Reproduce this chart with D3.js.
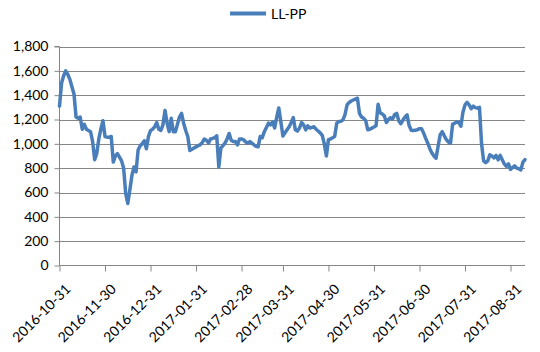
<!DOCTYPE html>
<html>
<head>
<meta charset="utf-8">
<script src="https://cdn.jsdelivr.net/npm/d3@7"></script>
<style>
  html, body { margin: 0; padding: 0; background: #ffffff; }
  svg { display: block; }
  text { font-family: Lato, "Liberation Sans", sans-serif; fill: #000; }
</style>
</head>
<body>
<svg id="chart" width="540" height="352"></svg>
<script>
// ---- data ----
const seriesName = "LL-PP";
const values = [
  1310, 1500, 1560, 1600, 1570, 1530, 1470, 1410, 1220, 1210,
  1220, 1120, 1160, 1120, 1110, 1100, 1020, 870, 920, 1040,
  1120, 1190, 1060, 1055, 1055, 1060, 850, 900, 920, 890,
  860, 800, 590, 510, 620, 740, 810, 770, 950, 985,
  1000, 1025, 960, 1060, 1110, 1120, 1140, 1175, 1120, 1110,
  1156, 1275, 1170, 1100, 1210, 1100, 1100, 1160, 1220, 1250,
  1170, 1110, 1060, 945, 955, 965, 975, 985, 992, 1010,
  1040, 1030, 1006, 1040, 1045, 1050, 1066, 810, 965, 985,
  1006, 1040, 1085, 1030, 1019, 1019, 992, 1040, 1040, 1033,
  1015, 1006, 1019, 1005, 992, 980, 975, 1060, 1050, 1100,
  1135, 1170, 1156, 1180, 1130, 1220, 1295, 1180, 1065, 1090,
  1115, 1140, 1175, 1215, 1115, 1105, 1130, 1175, 1156, 1115,
  1148, 1130, 1135, 1140, 1120, 1105, 1090, 1070, 1000, 900,
  1035, 1040, 1050, 1060, 1170, 1183, 1185, 1197, 1240, 1320,
  1340, 1352, 1360, 1368, 1375, 1250, 1220, 1210, 1190, 1115,
  1120, 1129, 1138, 1148, 1325, 1255, 1245, 1230, 1175, 1200,
  1215, 1205, 1240, 1250, 1190, 1165, 1195, 1220, 1238, 1150,
  1112, 1109, 1112, 1115, 1125, 1125, 1088, 1045, 1005, 960,
  925, 900, 882, 980, 1075, 1100, 1066, 1035, 1015, 1006,
  1160, 1170, 1180, 1175, 1145, 1260, 1320, 1340, 1320, 1288,
  1310, 1298, 1293, 1300, 1000, 860, 846, 860, 910, 900,
  885, 905, 868, 905, 870, 835, 815, 836, 790, 805,
  819, 800, 795, 786, 850, 870
];
const tickIndices = [0, 22, 44, 66, 88, 108, 130, 152, 174, 196, 218];
const tickLabels = [
  "2016-10-31", "2016-11-30", "2016-12-31", "2017-01-31", "2017-02-28",
  "2017-03-31", "2017-04-30", "2017-05-31", "2017-06-30", "2017-07-31", "2017-08-31"
];
const yTicks = [0, 200, 400, 600, 800, 1000, 1200, 1400, 1600, 1800];

// ---- layout ----
const svg = d3.select("#chart");
const plot = { left: 59.5, right: 525, top: 46.5, bottom: 265.5 };
const lineColor = "#4a7ebb";
const gridColor = "#868686";

const x = d3.scaleLinear().domain([0, values.length - 1]).range([plot.left, plot.right]);
const y = d3.scaleLinear().domain([0, 1800]).range([plot.bottom, plot.top]);

// gridlines
svg.append("g")
  .selectAll("line")
  .data(yTicks.filter(d => d > 0))
  .join("line")
  .attr("x1", plot.left).attr("x2", plot.right)
  .attr("y1", d => Math.round(y(d)) + 0.5).attr("y2", d => Math.round(y(d)) + 0.5)
  .attr("stroke", gridColor).attr("stroke-width", 1);

// y axis
const yAxis = d3.axisLeft(y)
  .tickValues(yTicks)
  .tickSize(5)
  .tickPadding(6)
  .tickFormat(d3.format(","));
const gy = svg.append("g")
  .attr("transform", `translate(${plot.left},0)`)
  .call(yAxis);
gy.selectAll("path, line").attr("stroke", gridColor);
gy.select(".domain").attr("d", `M-5,${plot.top}H0V${plot.bottom}`);
gy.selectAll("text").style("font-size", "14px").style("font-family", "Lato, sans-serif").attr("fill", "#000");

// x axis
const xAxis = d3.axisBottom(x)
  .tickValues(tickIndices)
  .tickSize(6)
  .tickFormat((d, i) => tickLabels[i]);
const gx = svg.append("g")
  .attr("transform", `translate(0,${plot.bottom})`)
  .call(xAxis);
gx.selectAll("path, line").attr("stroke", gridColor);
gx.select(".domain").attr("d", `M${plot.left},0H${plot.right}`);
gx.selectAll("text")
  .style("font-size", "14px").style("font-family", "Lato, sans-serif").attr("fill", "#000")
  .attr("text-anchor", "end")
  .attr("dy", "0.35em")
  .attr("transform", "translate(8,21) rotate(-45)")
  .attr("y", 0).attr("x", 0);

// line
const line = d3.line()
  .x((d, i) => x(i))
  .y(d => y(d));
svg.append("path")
  .datum(values)
  .attr("d", line)
  .attr("fill", "none")
  .attr("stroke", lineColor)
  .attr("stroke-width", 3.5)
  .attr("stroke-linejoin", "round")
  .attr("stroke-linecap", "round");

// legend
const lg = svg.append("g");
lg.append("line")
  .attr("x1", 230).attr("x2", 266).attr("y1", 13.5).attr("y2", 13.5)
  .attr("stroke", lineColor).attr("stroke-width", 4);
lg.append("text")
  .attr("x", 271).attr("y", 18.5)
  .style("font-size", "14px")
  .text(seriesName);
</script>
</body>
</html>
